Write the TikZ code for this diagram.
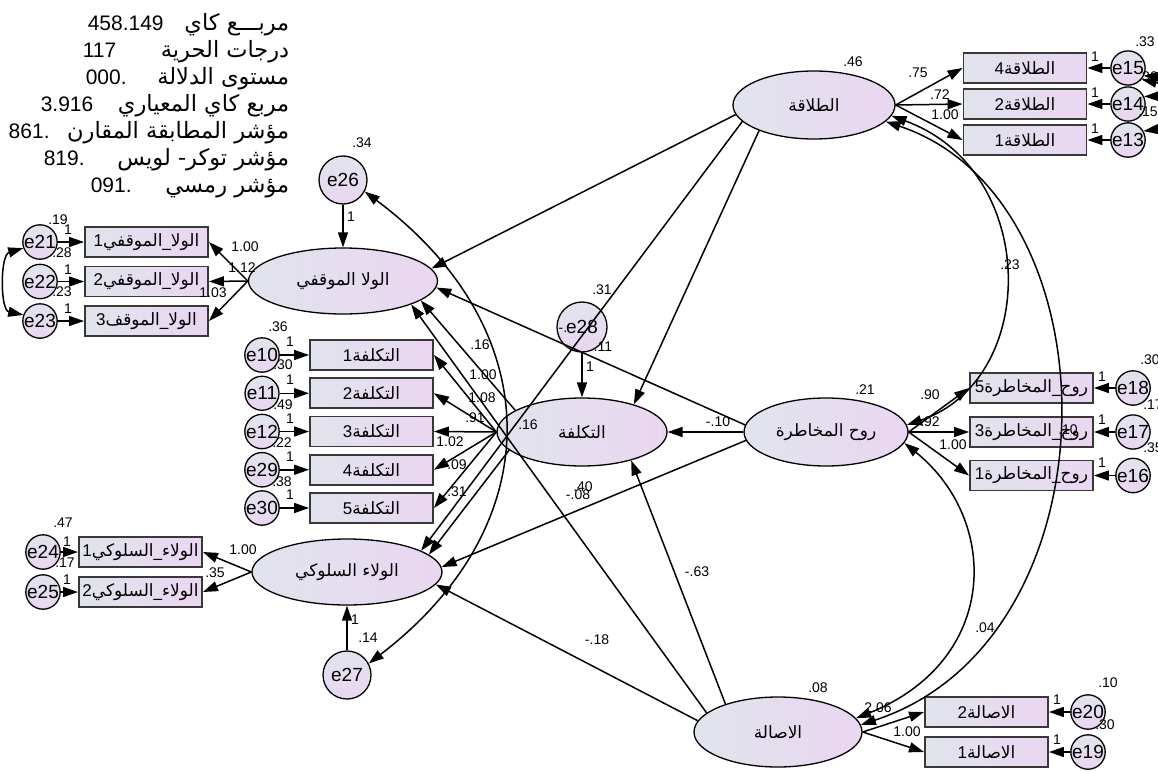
\documentclass[tikz,border=0pt]{standalone}
\usepackage{fontspec}
\setmainfont{Liberation Sans}
\newfontfamily\arabicfont[Script=Arabic]{DejaVu Sans}
\TeXXeTstate=1
\usepackage{tikz}
\usetikzlibrary{shapes.geometric,arrows.meta,positioning}
\definecolor{amosL}{HTML}{E1E4EC}
\definecolor{amosR}{HTML}{EAD6F1}
\definecolor{boxline}{HTML}{383838}
\newcommand{\artx}[1]{{\arabicfont\beginR#1\endR}}
\newcommand{\indtx}[2]{#2\artx{#1}}

\begin{document}
\begin{tikzpicture}[x=1pt,y=-1pt,line width=1.5pt,>={Triangle[length=15pt,width=10pt]},
  node distance=40pt,on grid,
  lat/.style={ellipse,draw,line width=1.3pt,left color=amosL,right color=amosR,inner sep=0pt,font=\fontsize{17}{17}\selectfont},
  obs/.style={rectangle,draw=boxline,line width=1.9pt,left color=amosL,right color=amosR,minimum width=123pt,minimum height=30pt,inner sep=0pt,font=\fontsize{17}{17}\selectfont},
  err/.style={circle,draw,line width=1.3pt,top color=amosL,bottom color=amosR,minimum size=34pt,inner sep=0pt,font=\fontsize{19}{19}\selectfont},
  dist/.style={err,minimum size=48pt},
  lbl/.style={inner sep=0pt,font=\fontsize{14}{14}\selectfont},
  stat/.style={inner sep=0pt,font=\fontsize{21}{21}\selectfont},
  statar/.style={inner sep=0pt,font=\fontsize{22.5}{22.5}\selectfont}]
\fill[white] (0,0) rectangle (1158,771);
\useasboundingbox (0,0) rectangle (1158,771);

\node[statar,anchor=base east] (s1) at (290,30) {\artx{مربـــع كاي}};
\node[stat,anchor=base west] (v1) at (87,30) {458.149};
\node[statar,anchor=base east] (s2) at (290,57) {\artx{درجات الحرية}};
\node[stat,anchor=base west] (v2) at (82,57) {117};
\node[statar,anchor=base east] (s3) at (290,84) {\artx{مستوى الدلالة}};
\node[stat,anchor=base west] (v3) at (85,84) {000.};
\node[statar,anchor=base east] (s4) at (290,111) {\artx{مربع كاي المعياري}};
\node[stat,anchor=base west] (v4) at (40,111) {3.916};
\node[statar,anchor=base east] (s5) at (290,138) {\artx{مؤشر المطابقة المقارن}};
\node[stat,anchor=base west] (v5) at (8,138) {861.};
\node[statar,anchor=base east] (s6) at (290,165) {\artx{مؤشر توكر- لويس}};
\node[stat,anchor=base west] (v6) at (43,165) {819.};
\node[statar,anchor=base east] (s7) at (290,192) {\artx{مؤشر رمسي}};
\node[stat,anchor=base west] (v7) at (90,192) {091.};

\node[lat,minimum width=189pt,minimum height=66pt] (att) at (343,281) {\artx{الولا الموقفي}};
\node[lat,minimum width=170pt,minimum height=68pt] (cost) at (582,432) {\artx{التكلفة}};
\node[lat,minimum width=190pt,minimum height=66pt] (beh) at (347,572) {\artx{الولاء السلوكي}};
\node[lat,minimum width=162pt,minimum height=68pt] (flu) at (814,105) {\artx{الطلاقة}};
\node[lat,minimum width=164pt,minimum height=68pt] (rsk) at (826,432) {\artx{روح المخاطرة}};
\node[lat,minimum width=168pt,minimum height=70pt] (org) at (778,732) {\artx{الاصالة}};

\node[dist] (e26) at (343,180) {e26};
\node[dist,minimum size=50pt] (e28) at (582,327) {e28};
\node[dist] (e27) at (347,675) {e27};

\node[obs] (a1) at (146.5,242) {\indtx{الولا\_الموقفي}{1}};
\node[obs,below=39.5pt of a1] (a2) {\indtx{الولا\_الموقفي}{2}};
\node[obs,below=39.5pt of a2] (a3) {\indtx{الولا\_الموقف}{3}};
\node[err,left=106.5pt of a1] (e21) {e21};
\node[err,left=106.5pt of a2] (e22) {e22};
\node[err,left=106.5pt of a3] (e23) {e23};

\node[obs] (c1) at (371.5,355) {\indtx{التكلفة}{1}};
\node[obs,below=38.25pt of c1] (c2) {\indtx{التكلفة}{2}};
\node[obs,below=38.25pt of c2] (c3) {\indtx{التكلفة}{3}};
\node[obs,below=38.25pt of c3] (c4) {\indtx{التكلفة}{4}};
\node[obs,below=38.25pt of c4] (c5) {\indtx{التكلفة}{5}};
\node[err,left=109.5pt of c1] (e10) {e10};
\node[err,left=109.5pt of c2] (e11) {e11};
\node[err,left=109.5pt of c3] (e12) {e12};
\node[err,left=109.5pt of c4] (e29) {e29};
\node[err,left=109.5pt of c5] (e30) {e30};

\node[obs] (b1) at (140.5,552) {\indtx{الولاء\_السلوكي}{1}};
\node[obs,below=40pt of b1] (b2) {\indtx{الولاء\_السلوكي}{2}};
\node[err,left=97.5pt of b1] (e24) {e24};
\node[err,left=97.5pt of b2] (e25) {e25};

\node[obs] (f4) at (1025,68) {\indtx{الطلاقة}{4}};
\node[obs,below=36pt of f4] (f2) {\indtx{الطلاقة}{2}};
\node[obs,below=36pt of f2] (f1) {\indtx{الطلاقة}{1}};
\node[err,right=103pt of f4] (e15) {e15};
\node[err,right=103pt of f2] (e14) {e14};
\node[err,right=103pt of f1] (e13) {e13};

\node[obs] (r5) at (1031.5,388) {\indtx{روح\_المخاطرة}{5}};
\node[obs,below=44pt of r5] (r3) {\indtx{روح\_المخاطرة}{3}};
\node[obs,below=43.5pt of r3] (r1) {\indtx{روح\_المخاطرة}{1}};
\node[err,right=101.5pt of r5] (e18) {e18};
\node[err,right=101.5pt of r3] (e17) {e17};
\node[err,right=101.5pt of r1] (e16) {e16};

\node[obs] (o2) at (986.5,712) {\indtx{الاصالة}{2}};
\node[obs,below=40pt of o2] (o1) {\indtx{الاصالة}{1}};
\node[err,right=101.5pt of o2] (e20) {e20};
\node[err,right=101.5pt of o1] (e19) {e19};

\path[->]
  (e21) edge (a1) (e22) edge (a2) (e23) edge (a3)
  (e10) edge (c1) (e11) edge (c2) (e12) edge (c3) (e29) edge (c4) (e30) edge (c5)
  (e24) edge (b1) (e25) edge (b2)
  (e15) edge (f4) (e14) edge (f2) (e13) edge (f1)
  (e18) edge (r5) (e17) edge (r3) (e16) edge (r1)
  (e20) edge (o2) (e19) edge (o1)
  (att.west) edge (a1.east) edge (a2.east) edge (a3.east)
  (cost.west) edge (c1.east) edge (c2.east) edge (c3.east) edge (c4.east) edge (c5.east)
  (beh.west) edge (b1.east) edge (b2.east)
  (flu.east) edge (f4.west) edge (f2.west) edge (f1.west)
  (rsk.east) edge (r5.west) edge (r3.west) edge (r1.west)
  (org.east) edge (o2.west) edge (o1.west)
  (e26) edge (att) (e28) edge (cost) (e27) edge (beh)
  (flu.187) edge (att.8)
  (flu.205) edge (cost.28)
  (flu.193) edge (beh.16)
  (cost.162) edge (att.-14)
  (cost.194) edge (beh.12)
  (rsk) edge (cost)
  (rsk.175) edge (att.-4)
  (rsk.186) edge (beh.3)
  (org.152) edge (cost.-30)
  (org.165) edge (att.-19)
  (org.172) edge (beh.-8);

\draw[<->] (flu.-8) .. controls (1040,170) and (1040,380) .. (rsk.5);
\draw[<->] (flu.-13) .. controls (1120,200) and (1120,640) .. (org.5);
\draw[<->] (rsk.-8) .. controls (1000,520) and (1000,660) .. (org.10);
\draw[<->] (e26.-28) .. controls (550,330) and (550,525) .. (e27.28);
\draw[<->] (e21.200) .. controls (0,255) and (0,310) .. (e23.160);
\draw[<->] (e15.-25) .. controls (1172,78) and (1172,96) .. (e14.25);
\draw[<->] (e15.-40) .. controls (1190,90) and (1190,125) .. (e13.30);

\node[lbl] (w1) at (58,220) {.19};
\node[lbl] (w2) at (68,230) {1};
\node[lbl] (w3) at (62,253) {.28};
\node[lbl] (w4) at (68,270) {1};
\node[lbl] (w5) at (62,292) {.23};
\node[lbl] (w6) at (68,309) {1};
\node[lbl] (w7) at (245,247) {1.00};
\node[lbl] (w8) at (242,268) {1.12};
\node[lbl] (w9) at (213,293) {1.03};
\node[lbl] (w10) at (362,143) {.34};
\node[lbl] (w11) at (351,217) {1};

\node[lbl] (k1) at (278,327) {.36};
\node[lbl] (k2) at (290,342) {1};
\node[lbl] (k3) at (283,365) {.30};
\node[lbl] (k4) at (290,380) {1};
\node[lbl] (k5) at (283,405) {.49};
\node[lbl] (k6) at (290,419) {1};
\node[lbl] (k7) at (282,443) {.22};
\node[lbl] (k8) at (290,457) {1};
\node[lbl] (k9) at (282,482) {.38};
\node[lbl] (k10) at (290,495) {1};
\node[lbl] (k11) at (480,345) {.16};
\node[lbl] (k12) at (483,375) {1.00};
\node[lbl] (k13) at (482,398) {1.08};
\node[lbl] (k14) at (475,418) {.91};
\node[lbl] (k15) at (450,442) {1.02};
\node[lbl] (k16) at (457,465) {.09};
\node[lbl] (k17) at (457,492) {.31};
\node[lbl] (k18) at (602,290) {.31};
\node[lbl] (k19) at (563,330) {-.};
\node[lbl] (k20) at (603,347) {.11};
\node[lbl] (k21) at (590,367) {1};
\node[lbl] (k22) at (528,425) {.16};
\node[lbl] (k23) at (718,422) {-.10};
\node[lbl] (k24) at (583,487) {.40};
\node[lbl] (k25) at (578,495) {-.08};
\node[lbl] (k26) at (697,572) {-.63};
\node[lbl] (k27) at (597,640) {-.18};

\node[lbl] (m1) at (63,523) {.47};
\node[lbl] (m2) at (67,542) {1};
\node[lbl] (m3) at (65,563) {.17};
\node[lbl] (m4) at (67,580) {1};
\node[lbl] (m5) at (243,550) {1.00};
\node[lbl] (m6) at (215,573) {.35};
\node[lbl] (m7) at (355,620) {1};
\node[lbl] (m8) at (368,638) {.14};

\node[lbl] (p1) at (853,62) {.46};
\node[lbl] (p2) at (918,73) {.75};
\node[lbl] (p3) at (940,95) {.72};
\node[lbl] (p4) at (945,115) {1.00};
\node[lbl] (p5) at (1095,57) {1};
\node[lbl] (p6) at (1095,93) {1};
\node[lbl] (p7) at (1095,129) {1};
\node[lbl] (p8) at (1145,42) {.33};
\node[lbl] (p9) at (1148,77) {.36};
\node[lbl] (p10) at (1148,112) {.15};
\node[lbl] (p11) at (1010,265) {.23};

\node[lbl] (q1) at (865,390) {.21};
\node[lbl] (q2) at (930,395) {.90};
\node[lbl] (q3) at (930,422) {.92};
\node[lbl] (q4) at (953,445) {1.00};
\node[lbl] (q5) at (1102,377) {1};
\node[lbl] (q6) at (1102,420) {1};
\node[lbl] (q7) at (1102,463) {1};
\node[lbl] (q8) at (1150,360) {.30};
\node[lbl] (q9) at (1153,405) {.17};
\node[lbl] (q10) at (1153,448) {.35};
\node[lbl] (q11) at (1068,430) {.10};

\node[lbl] (u1) at (818,688) {.08};
\node[lbl] (u2) at (878,708) {2.06};
\node[lbl] (u3) at (907,732) {1.00};
\node[lbl] (u4) at (1057,700) {1};
\node[lbl] (u5) at (1057,740) {1};
\node[lbl] (u6) at (1108,683) {.10};
\node[lbl] (u7) at (1105,725) {.30};
\node[lbl] (u8) at (985,628) {.04};
\end{tikzpicture}
\end{document}
